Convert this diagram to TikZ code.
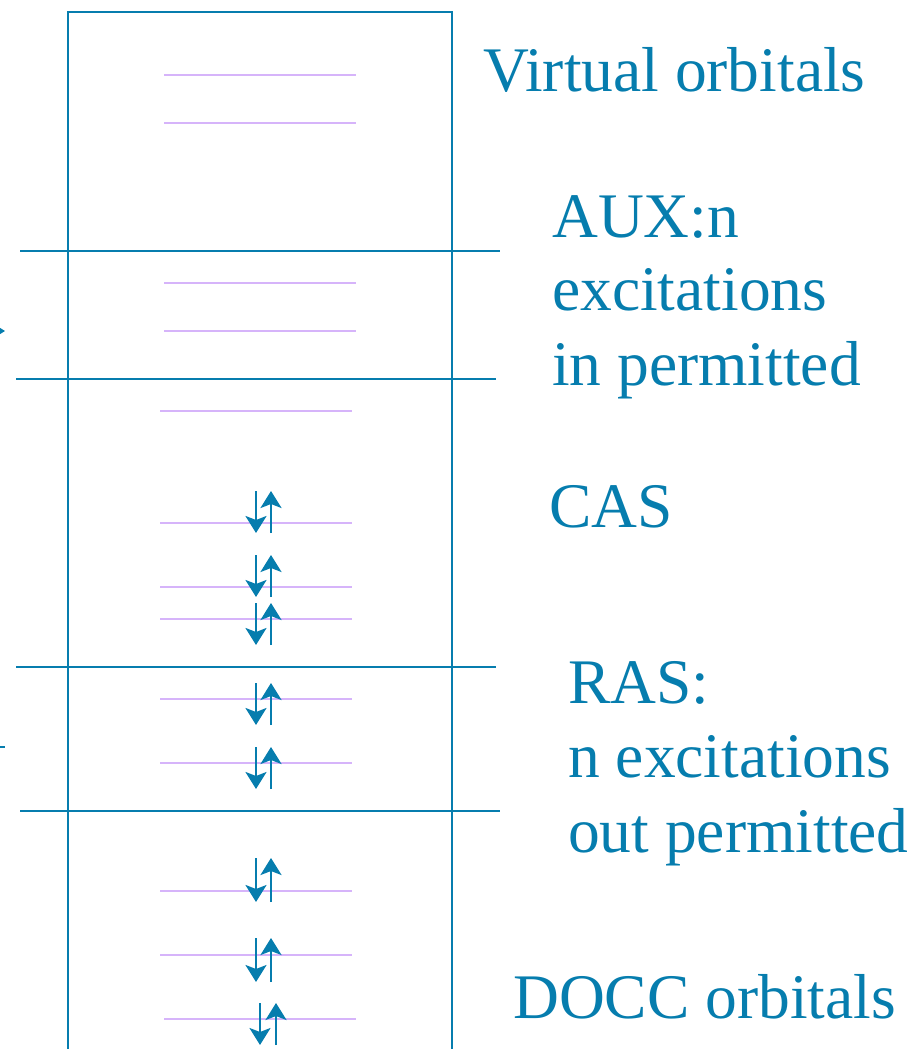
\documentclass[tikz,border=0pt]{standalone}
\usepackage{fontspec}
\setmainfont{Liberation Serif}
\usetikzlibrary{arrows.meta}
\definecolor{frameblue}{RGB}{6,125,174}
\definecolor{levelpurple}{RGB}{214,180,250}
\tikzset{
  frame/.style={draw=frameblue, line width=2.2pt},
  level/.style={draw=levelpurple, line width=2.2pt},
  spin/.style={draw=frameblue, line width=2.4pt, -{Stealth[length=17pt,width=21pt,inset=4pt]}},
  label/.style={text=frameblue, font=\fontsize{63.5}{75}\selectfont, anchor=base west, inner sep=0pt},
}
% draw a doubly occupied level: down spin at x=#1, up spin at x=#2, spanning y #3..#4
\newcommand{\spinpair}[4]{%
  \draw[spin] (#1,#3) -- (#1,#4);
  \draw[spin] (#2,#4) -- (#2,#3);
}
\begin{document}
\begin{tikzpicture}[x=1pt,y=-1pt]
\useasboundingbox (0,0) rectangle (915,1049);
\clip (0,0) rectangle (915,1049);

% outer orbital box (open at the bottom)
\draw[frame] (68,1070) -- (68,12) -- (452,12) -- (452,1070);

% space separators
\draw[frame] (20,251) -- (500,251);
\draw[frame] (16,379) -- (496,379);
\draw[frame] (16,667) -- (496,667);
\draw[frame] (20,811) -- (500,811);

% marks at the left edge
\coordinate (auxmark) at (5,331);
\draw[spin] (-20,331) -- (auxmark);
\coordinate (rasmark) at (5,747);
\draw[frame] (-5,747) -- (rasmark);

% orbital levels
\foreach \y in {75,123,283,331} \draw[level] (164,\y) -- (356,\y);
\foreach \y in {411,523,587,619,699,763,891,955} \draw[level] (160,\y) -- (352,\y);
\draw[level] (164,1019) -- (356,1019);

% electron pairs
\spinpair{256}{271}{491}{533}
\spinpair{256}{271}{555}{597}
\spinpair{256}{271}{603}{645}
\spinpair{256}{271}{683}{725}
\spinpair{256}{271}{747}{789}
\spinpair{256}{271}{858}{902}
\spinpair{256}{271}{938}{982}
\spinpair{260}{276}{1003}{1045}

% space labels
\node[label] (virt) at (483,92) {Virtual orbitals};
\node[label] (aux1) at (552,237) {AUX:n};
\node[label] (aux2) at (552,310) {excitations};
\node[label] (aux3) at (552,385) {in permitted};
\node[label] (cas) at (549,527) {CAS};
\node[label] (ras1) at (568,703) {RAS:};
\node[label] (ras2) at (568,777) {n excitations};
\node[label] (ras3) at (568,852) {out permitted};
\node[label] (docc) at (513,1018) {DOCC orbitals};
\end{tikzpicture}
\end{document}
